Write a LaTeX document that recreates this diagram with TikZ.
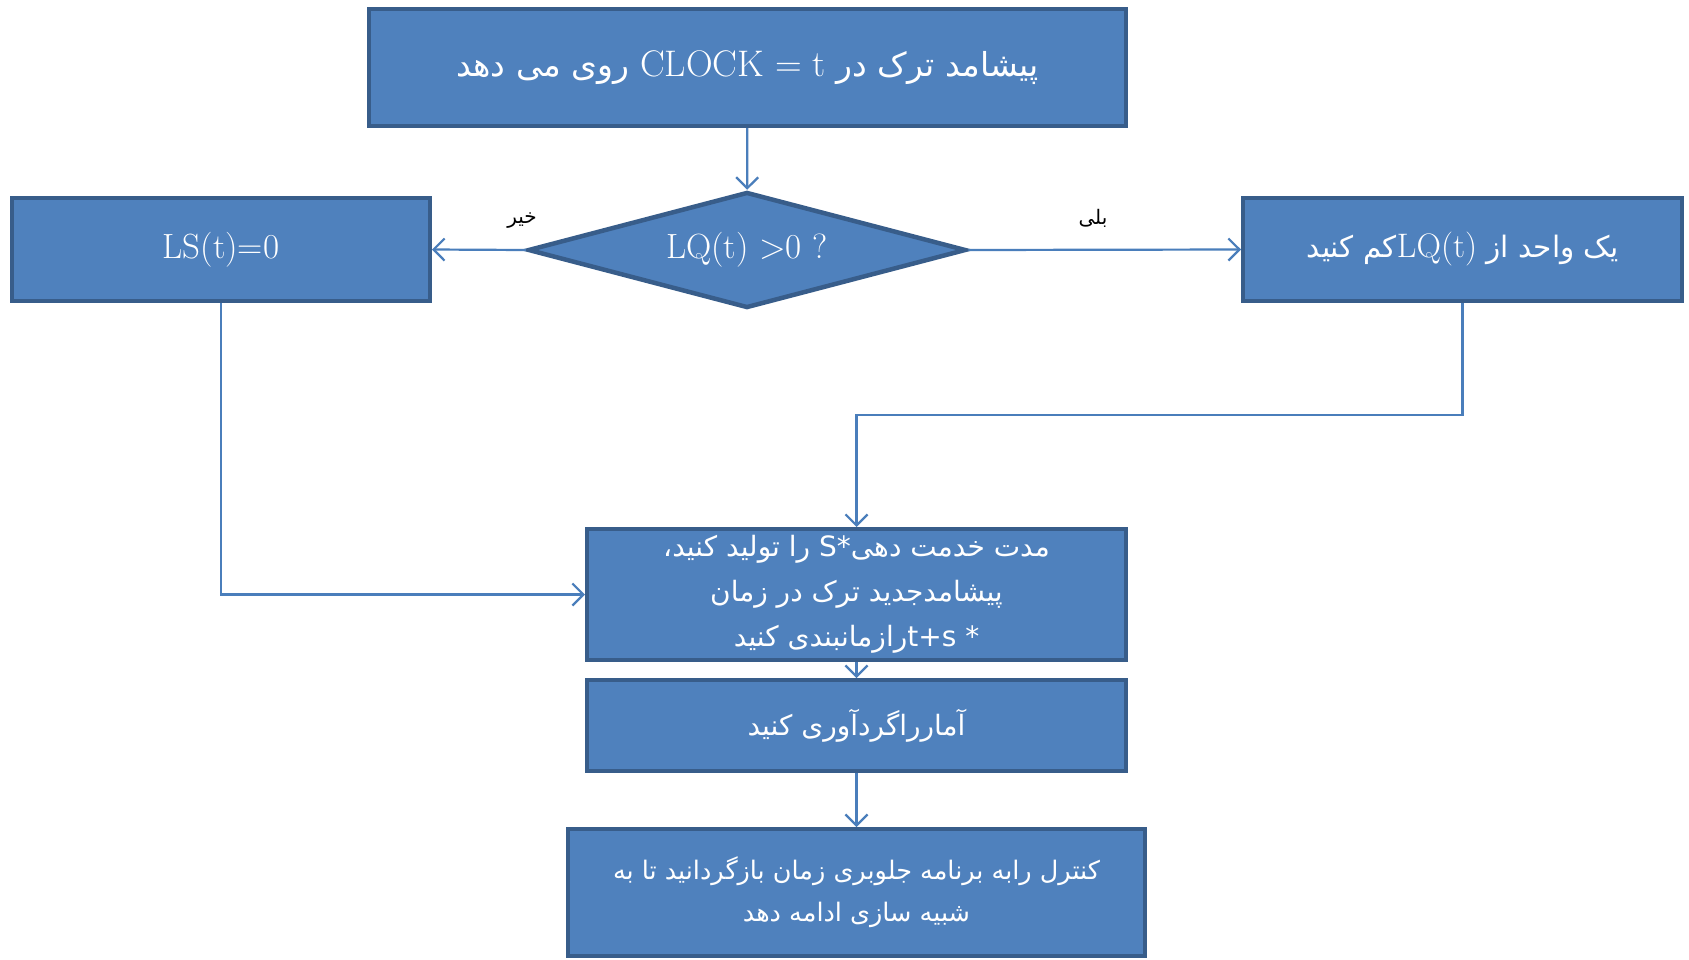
\documentclass[tikz,border=0pt]{standalone}
\usepackage{fontspec}
\TeXXeTstate=1
\newfontfamily\arfont[Script=Arabic]{DejaVu Sans}
\usetikzlibrary{shapes.geometric,arrows.meta}
\definecolor{boxfill}{HTML}{4F81BD}
\definecolor{boxline}{HTML}{385D8A}
\definecolor{connline}{HTML}{4A7EBB}
\tikzset{
  flowbox/.style={rectangle, draw=boxline, line width=4pt, fill=boxfill, text=white, inner sep=0pt, align=center},
  decbox/.style={diamond, draw=boxline, line width=4.5pt, fill=boxfill, text=white, inner sep=0pt, aspect=4},
  conn/.style={draw=connline, line width=2.2pt, -{Straight Barb[length=11pt,width=22pt,line width=2.2pt]}},
  lbl/.style={text=black, inner sep=0pt, font=\arfont\fontsize{20}{24}\selectfont}
}
\begin{document}
\begin{tikzpicture}[x=1pt,y=-1pt]
\useasboundingbox (0,0) rectangle (1689,959);
\fill[white] (0,0) rectangle (1689,959);
\node[flowbox, minimum width=757pt, minimum height=117pt, font=\arfont\fontsize{33}{38}\selectfont] (top) at (747.5,67.5)
  {\beginR پیشامد ترک در \beginL{\rmfamily\fontsize{37}{38}\selectfont CLOCK = t}\endL{} روی می دهد\endR};
\node[decbox, minimum width=438pt, minimum height=116pt, font=\rmfamily\fontsize{35}{40}\selectfont] (dia) at (747,250) {LQ(t) >0 ?};
\node[flowbox, minimum width=418pt, minimum height=103pt, font=\rmfamily\fontsize{35}{40}\selectfont] (ls) at (221,249.5) {LS(t)=0};
\node[flowbox, minimum width=439pt, minimum height=103pt, font=\arfont\fontsize{29.5}{34}\selectfont] (rb) at (1462.5,249.5)
  {\beginR یک واحد از \beginL{\rmfamily\fontsize{34}{34}\selectfont LQ(t)}\endL{}کم کنید\endR};
\node[flowbox, minimum width=539pt, minimum height=131pt, font=\arfont\fontsize{28}{45}\selectfont] (mid) at (856.5,594.5)
  {\beginR مدت خدمت دهی\beginL S*\endL{} را تولید کنید،\endR\\
   \beginR پیشامدجدید ترک در زمان\endR\\
   \beginR\beginL t+s *\endL{}رازمانبندی کنید\endR};
\node[flowbox, minimum width=539pt, minimum height=91pt, font=\arfont\fontsize{28}{34}\selectfont] (stat) at (856.5,725.5)
  {\beginR آمارراگردآوری کنید\endR};
\node[flowbox, minimum width=577pt, minimum height=127pt, font=\arfont\fontsize{25.5}{42}\selectfont] (bot) at (856.5,892.5)
  {\beginR کنترل رابه برنامه جلوبری زمان بازگردانید تا به\endR\\
   \beginR شبیه سازی ادامه دهد\endR};
\coordinate (jr) at (856.5,415);
\draw[conn] (top) -- (dia);
\draw[conn] (dia.west) -- (ls.east);
\draw[conn] (dia.east) -- (rb.west);
\draw[conn] (rb.south) |- (jr) -- (mid.north);
\draw[conn] (ls.south) |- (mid.west);
\draw[conn] (mid) -- (stat);
\draw[conn] (stat) -- (bot);
\node[lbl] (no) at (522,221) {\beginR خیر\endR};
\node[lbl] (yes) at (1093,218) {\beginR بلی\endR};
\end{tikzpicture}
\end{document}
